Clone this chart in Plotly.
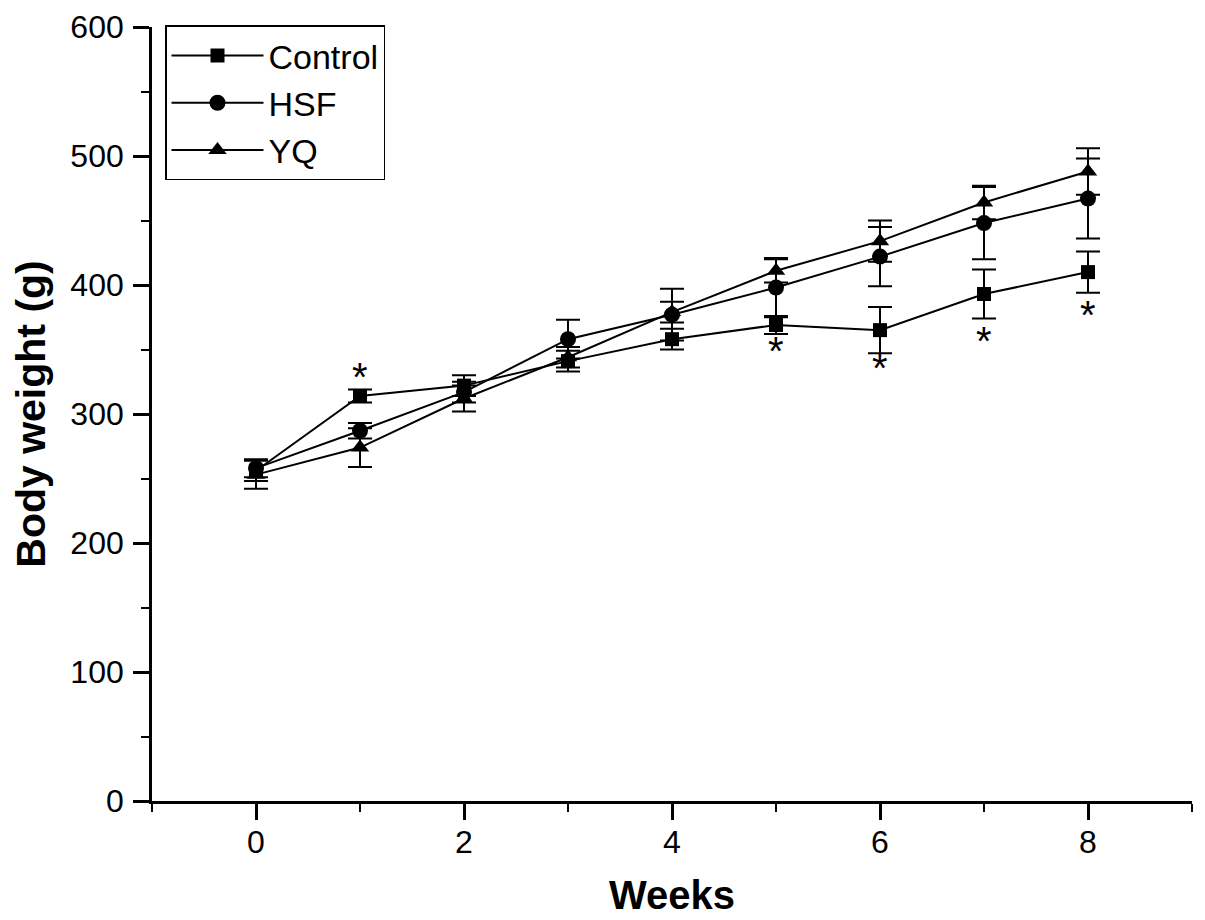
import plotly.graph_objects as go

weeks = [0, 1, 2, 3, 4, 5, 6, 7, 8]

control = [256, 314, 322, 341, 358, 369, 365, 393, 410]
control_err = [8, 5, 8, 8, 8, 7, 18, 19, 16]

hsf = [258, 287, 317, 358, 377, 398, 422, 448, 467]
hsf_err = [7, 6, 8, 15, 20, 23, 23, 28, 31]

yq = [253, 274, 312, 344, 379, 411, 434, 464, 488]
yq_err = [11, 15, 10, 8, 8, 9, 16, 13, 18]

star_x = [1, 5, 6, 7, 8]
star_y = [332, 352, 339, 360, 380]

x_ticks = [0, 2, 4, 6, 8]
y_ticks = [0, 100, 200, 300, 400, 500, 600]

FONT = "Liberation Sans, Arial, sans-serif"

fig = go.Figure()

series = [
    ("Control", control, control_err, "square", 14),
    ("HSF", hsf, hsf_err, "circle", 16),
    ("YQ", yq, yq_err, "triangle-up", 16),
]
for name, vals, errs, sym, sz in series:
    fig.add_trace(go.Scatter(
        x=weeks, y=vals, name=name, mode="lines+markers",
        line=dict(color="black", width=2),
        marker=dict(symbol=sym, size=sz, color="black"),
        error_y=dict(type="data", array=errs, visible=True,
                     color="black", thickness=2, width=12),
    ))

for sx, sy in zip(star_x, star_y):
    fig.add_annotation(x=sx, y=sy, text="*", showarrow=False,
                       font=dict(family=FONT, size=40, color="black"),
                       xanchor="center", yanchor="middle", yshift=-4)

fig.update_layout(
    width=1197, height=912,
    margin=dict(l=144, r=13, t=19, b=119, pad=0, autoexpand=False),
    paper_bgcolor="white", plot_bgcolor="white",
    font=dict(family=FONT, color="black"),
    showlegend=True,
    legend=dict(
        x=0.0125, y=1.002, xanchor="left", yanchor="top",
        bordercolor="black", borderwidth=1.5, bgcolor="white",
        font=dict(family=FONT, size=34, color="black"),
        itemwidth=92, tracegroupgap=0,
    ),
)

fig.update_xaxes(
    range=[-1, 9], tickvals=x_ticks, ticktext=[str(v) for v in x_ticks],
    automargin=False,
    showline=True, linecolor="black", linewidth=2.7, mirror=False,
    ticks="outside", ticklen=16, tickwidth=2.7, tickcolor="black",
    minor=dict(dtick=1, tick0=-1, ticks="outside", ticklen=8, tickwidth=2.2, tickcolor="black"),
    showgrid=False, zeroline=False,
    tickfont=dict(family=FONT, size=32, color="black"),
    ticklabelstandoff=-5,
    title=dict(text="Weeks", font=dict(family=FONT, size=40, color="black", weight="bold"), standoff=22),
)
fig.update_yaxes(
    range=[0, 600], tickvals=y_ticks, ticktext=[str(v) for v in y_ticks],
    automargin=False,
    showline=True, linecolor="black", linewidth=2.7, mirror=False,
    ticks="outside", ticklen=16, tickwidth=2.7, tickcolor="black",
    minor=dict(dtick=50, tick0=0, ticks="outside", ticklen=8, tickwidth=2.2, tickcolor="black"),
    showgrid=False, zeroline=False,
    tickfont=dict(family=FONT, size=32, color="black"),
    ticklabelstandoff=3,
    title=dict(text="Body weight (g)", font=dict(family=FONT, size=41, color="black", weight="bold"), standoff=25),
)

fig.write_html("out.html")
